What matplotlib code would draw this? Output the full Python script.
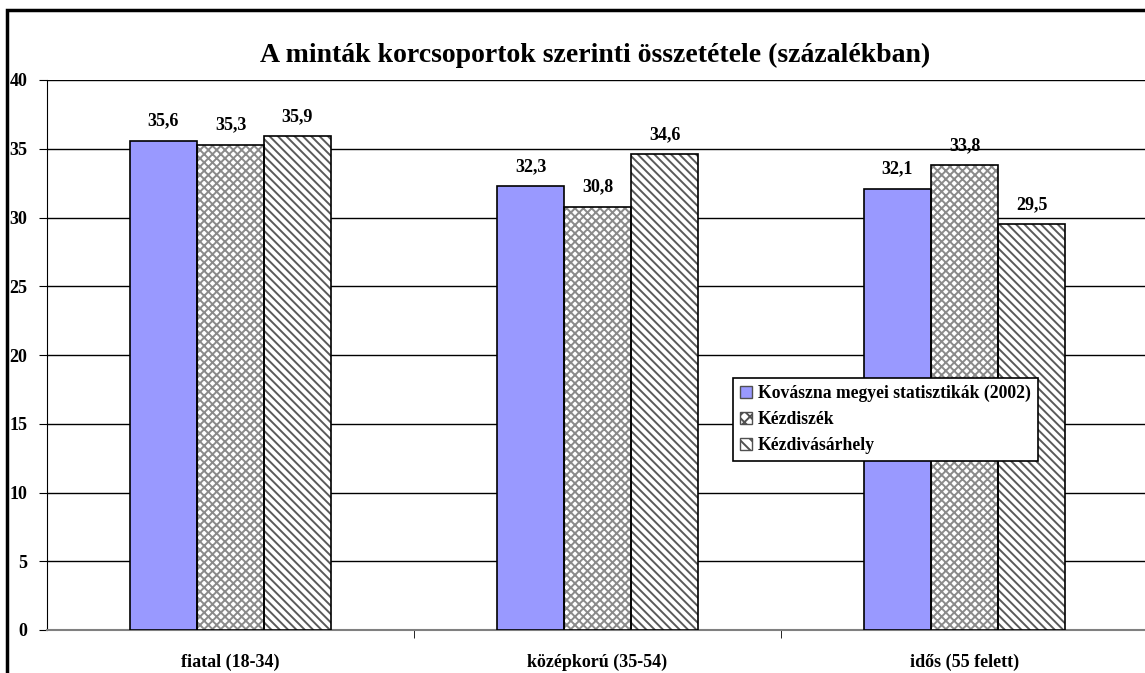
import numpy as np
import matplotlib.pyplot as plt
from matplotlib.patches import Rectangle

plt.rcParams['font.family'] = ['Liberation Serif', 'DejaVu Serif']
plt.rcParams['hatch.linewidth'] = 1.4

categories = ['fiatal (18-34)', 'középkorú (35-54)', 'idős (55 felett)']
series_names = ['Kovászna megyei statisztikák (2002)', 'Kézdiszék', 'Kézdivásárhely']
kovaszna = [35.6, 32.3, 32.1]
kezdiszek = [35.3, 30.8, 33.8]
kezdivasarhely = [35.9, 34.6, 29.5]

fig = plt.figure(figsize=(11.45, 6.73), dpi=100)
ax = fig.add_axes([47 / 1145, 1 - 630 / 673, 1101 / 1145, 550 / 673])

x = np.arange(len(categories))
w = 67 / 367
series = [kovaszna, kezdiszek, kezdivasarhely]
colors = ['#9999FF', 'white', 'white']
hatches = [None, 'xxxx', '\\\\\\\\']
hatch_colors = ['black', '#8a8a8a', '#5a5a5a']

handles = []
for i, (vals, name) in enumerate(zip(series, series_names)):
    pos = x + (i - 1) * w
    # hatch follows edgecolor, so draw gray hatch first then black outline
    ax.bar(pos, vals, w, color=colors[i], edgecolor=hatch_colors[i], linewidth=0,
           hatch=hatches[i], zorder=3)
    bars = ax.bar(pos, vals, w, fill=False, edgecolor='black', linewidth=1.2, zorder=4)
    handles.append(Rectangle((0, 0), 1, 1, facecolor=colors[i], edgecolor='#505050',
                             hatch=None if hatches[i] is None else hatches[i][:3]))
    for b, v in zip(bars, vals):
        ax.text(b.get_x() + b.get_width() / 2, v + 0.8, f'{v:.1f}'.replace('.', ','),
                ha='center', va='bottom', fontsize=13, fontweight='bold')

ax.set_xlim(-0.5, 2.5)
ax.set_ylim(0, 40)
ax.set_yticks(range(0, 41, 5))
ax.set_xticks(x)
ax.set_xticklabels(categories, fontsize=13, fontweight='bold')
ax.tick_params(axis='x', length=0, pad=17)
ax.set_xticks([0.5, 1.5], minor=True)
ax.tick_params(axis='x', which='minor', length=6, color='black')
ax.tick_params(axis='y', length=6, labelsize=13, pad=8)
for lbl in ax.get_yticklabels():
    lbl.set_fontweight('bold')
ax.grid(axis='y', color='black', linewidth=1, zorder=0)
ax.spines['top'].set_visible(False)
ax.spines['right'].set_visible(False)
ax.spines['bottom'].set_color('#808080')
ax.spines['bottom'].set_linewidth(1.5)
ax.spines['left'].set_color('black')

fig.text(595 / 1145, 1 - 55 / 673, 'A minták korcsoportok szerinti összetétele (százalékban)',
         ha='center', va='center', fontsize=20, fontweight='bold')

leg = ax.legend(handles, series_names, loc='upper left',
                bbox_to_anchor=(733 / 1145, 1 - 378 / 673),
                bbox_transform=fig.transFigure, frameon=True, fancybox=False,
                framealpha=1, prop={'weight': 'bold', 'size': 12.7},
                handlelength=0.7, handleheight=0.7, handletextpad=0.3,
                borderpad=0.4, labelspacing=0.5, borderaxespad=0)
leg.get_frame().set_edgecolor('black')
leg.get_frame().set_linewidth(1.2)
leg.set_zorder(10)

fig.patches.append(Rectangle((7 / 1145, -0.1), 1.2, 1 - 10 / 673 + 0.1,
                             transform=fig.transFigure, fill=False,
                             edgecolor='black', linewidth=2.5))

fig.savefig('out.png', dpi=100)
